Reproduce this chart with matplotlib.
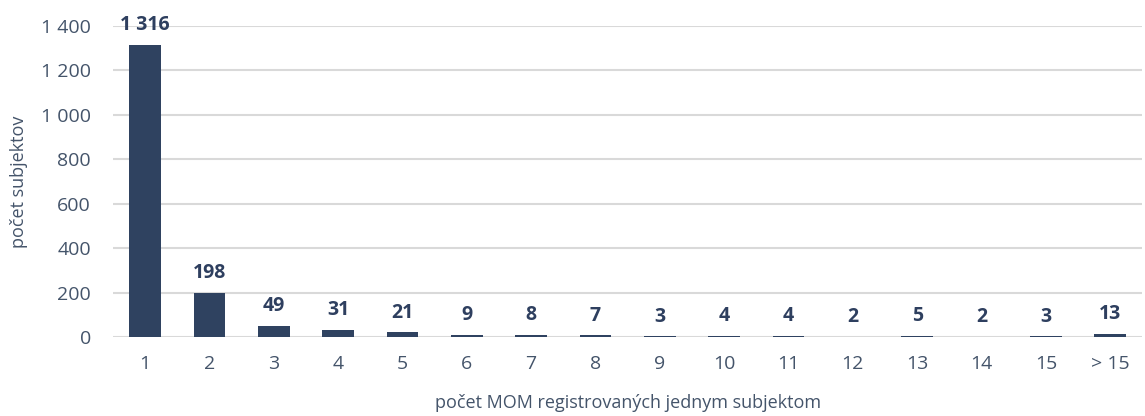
import matplotlib.pyplot as plt
from matplotlib.ticker import FuncFormatter

categories = ["1", "2", "3", "4", "5", "6", "7", "8", "9", "10",
              "11", "12", "13", "14", "15", "> 15"]
values = [1316, 198, 49, 31, 21, 9, 8, 7, 3, 4, 4, 2, 5, 2, 3, 13]

bar_color = "#2F4260"
text_color = "#44546A"
label_color = "#2E3F5F"

plt.rcParams['font.family'] = ['Open Sans', 'DejaVu Sans']

fig = plt.figure(figsize=(11.45, 4.16), dpi=100)
ax = fig.add_axes([0.0987, 0.19, 0.899, 0.7475])

x = range(len(categories))
bars = ax.bar(x, values, width=0.49, color=bar_color, zorder=3)

# value labels above bars
for xi, v in zip(x, values):
    ax.annotate(f"{v:,}".replace(",", " "), (xi, v), xytext=(0, 7),
                textcoords="offset points", ha="center", va="bottom",
                fontsize=14, fontweight="bold", color=label_color,
                annotation_clip=False)

ax.set_xlim(-0.5, len(categories) - 0.5)
ax.set_ylim(0, 1400)
ax.set_yticks(range(0, 1401, 200))
ax.yaxis.set_major_formatter(FuncFormatter(lambda v, p: f"{int(v):,}".replace(",", " ")))
ax.set_xticks(list(x))
ax.set_xticklabels(categories)

ax.grid(axis="y", color="#D9D9D9", linewidth=1.5, zorder=0)
for s in ax.spines.values():
    s.set_visible(False)
ax.tick_params(axis="both", length=0, labelsize=14, colors=text_color)
ax.tick_params(axis="x", pad=13)
ax.tick_params(axis="y", pad=16)

ax.set_xlabel("počet MOM registrovaných jednym subjektom", fontsize=13,
              color=text_color, labelpad=15)
ax.set_ylabel("počet subjektov", fontsize=13, color=text_color, labelpad=9)

fig.savefig("out.png", dpi=100)
